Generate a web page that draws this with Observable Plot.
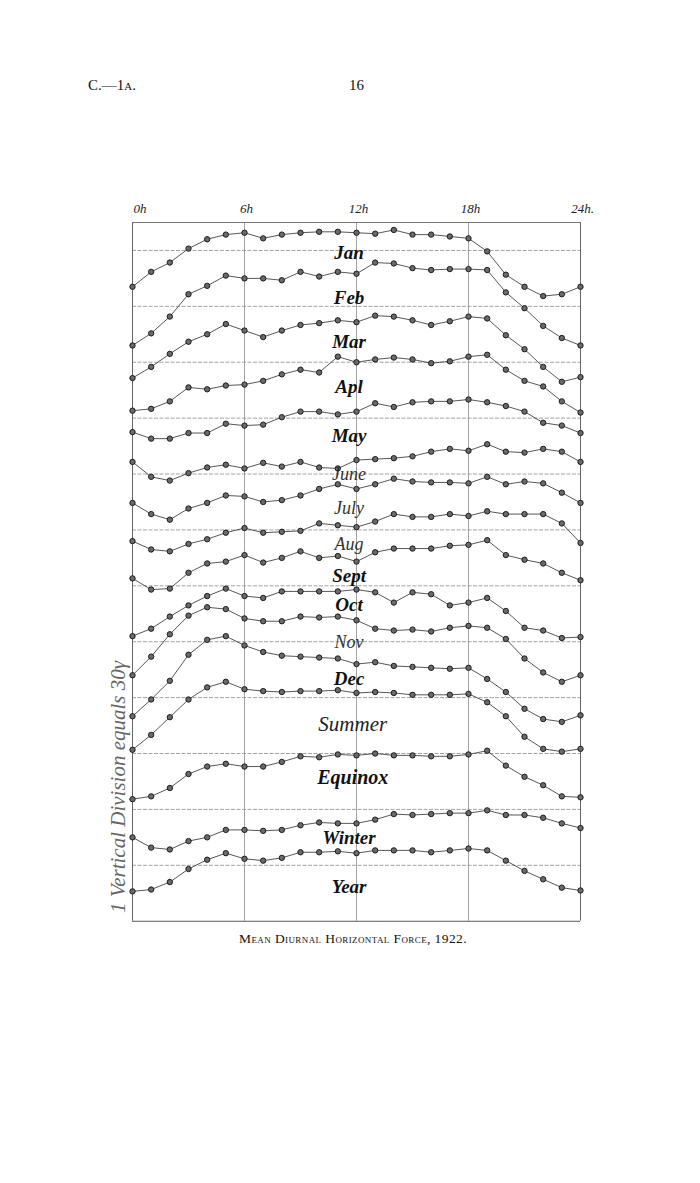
<!DOCTYPE html>
<html><head><meta charset="utf-8">
<script src="https://cdn.jsdelivr.net/npm/d3@7"></script>
<script src="https://cdn.jsdelivr.net/npm/@observablehq/plot@0.6"></script>
<style>
body{margin:0;background:#fff;width:700px;height:1183px;position:relative;overflow:hidden;font-family:"Liberation Serif",serif;color:#111}
#chart{position:absolute;left:0;top:0}
.hdr{position:absolute;top:77px;font-size:15px}
#cap{position:absolute;top:931px;left:0;width:706px;text-align:center;font-variant:small-caps;font-size:13.5px;letter-spacing:0.4px}
g[aria-label="series-label"] text{letter-spacing:1.6px}
g[aria-label="season-label"] text{letter-spacing:1.2px}
</style></head><body>
<div class="hdr" style="left:88px">C.—1<span style="font-size:11px">A</span>.</div>
<div class="hdr" style="left:349px">16</div>
<div id="chart"></div>
<div id="cap">Mean Diurnal Horizontal Force, 1922.</div>
<script>
// Hours of the day (0h .. 24h)
const hours = [0,1,2,3,4,5,6,7,8,9,10,11,12,13,14,15,16,17,18,19,20,21,22,23,24];
// Curve values, in gamma above the bottom line of the diagram (1 division = 30 gamma)
const jan = [340.5,348.5,353.5,361,366,368.5,369.5,366.5,368.5,369.5,370,370,369.5,369,371,368.5,368.5,367.5,366.5,359.5,347,340.5,335.5,336.5,340.5];
const feb = [309,315.5,324.5,336.5,341,346.5,345,345,344,348.5,346,348.5,347.5,353.5,353,350.5,349.5,350,350,349.5,337.5,329,319.5,313,309];
const mar = [291.5,297.5,304.5,311,315,320.5,317,313.5,317,320,321,322.5,321.5,325,324.5,322.5,320,322,324.5,323.5,314.5,307,297.5,289.5,292];
const apl = [274,275,279,286.5,285.5,287.5,288,290,293.5,296,294.5,303,300,301.5,302.5,301.5,299.5,300.5,303,304,296,290,287,279,273];
const may = [262.5,259,259,262,262,267,266,266.5,270.5,273.5,273.5,272,273.5,278,276,278.5,279,279,280,278.5,276.5,273.5,267.5,266,262];
const june = [246.5,238.5,236.5,240.5,243.5,245,243,246,244,246.5,243.5,243,247.5,248,248.5,249.5,252,253.5,252.5,256,252,251.5,253.5,252,246.5];
const july = [224.5,218.5,215.5,221.5,224.5,228.5,228,225,226,228.5,232,234.5,232,234.5,237.5,236,235.5,235.5,235,238.5,234.5,236,235,230,224.5];
const aug = [204,199.5,198.5,202.5,205,208.5,211,208.5,209,209.5,213.5,212.5,211.5,214.5,218.5,217,217,218.5,217.5,220,218.5,218.5,218.5,213.5,203];
const sept = [184,178,178.5,187,192,193,196.5,192.5,195,198.5,195,196,193,198,200,200,200,201.5,202,204.5,196.5,194,192,187,183];
const oct = [153,157,163.5,169.5,174.5,178.5,174.5,173.5,177,177,177,177,178,176.5,171,176.5,175.5,169.5,171,173.5,166.5,157.5,156,152,152.5];
const nov = [132,142,154,164,168.5,167.5,162.5,161,161,163.5,163,163.5,161.5,157,156,156.5,155.5,157.5,158.5,157.5,151.5,141,133.5,128.5,132];
const dec = [110,119,129,143,151,153,148,144.5,142.5,142,141.5,141,138,139,137,136.5,136,135.5,136,130,123,114,108.5,107,110.5];
const summer = [92,100,109.5,119,125.5,128.5,124.5,123.5,123,123.5,123.5,124,122.5,123,122.5,121.5,121.5,121.5,122,117.5,110,99,92.5,91,92.5];
const equinox = [65.5,67,71.5,79,83,84.5,83,83,85.5,88.5,88,89.5,89,90,89,89,88.5,88.5,89.5,91.5,83.5,77.5,73,67,66.5];
const winter = [45,39.5,38.5,43,45,49,49,48.5,49,51.5,53,52.5,52.5,54.5,57.5,57,57.5,58,58,59.5,57,57,55.5,52.5,50];
const year = [16,17,21,28,33,36.5,33.5,32.5,34,37,37,37.5,36.5,38,38,38,37,38,39,38,32.5,27,22.5,18,16.5];

const seriesNames = ["Jan","Feb","Mar","Apl","May","June","July","Aug","Sept","Oct","Nov","Dec","Summer","Equinox","Winter","Year"];
const seriesValues = [jan,feb,mar,apl,may,june,july,aug,sept,oct,nov,dec,summer,equinox,winter,year];
const gridLevels = [0,30,60,90,120,150,180,210,240,270,300,330,360];
const topLevel = 375;
const tickHours = [0,6,12,18,24];
const tickLabels = ["0h","6h","12h","18h","24h."];
const scaleNote = "1 Vertical Division equals 30γ";

const rows = [];
seriesNames.forEach((name,i)=>seriesValues[i].forEach((v,j)=>rows.push({series:name,hour:hours[j],value:v})));
const noon = hours.indexOf(12);
// each name sits midway between its own curve and the next one at noon
const labels = seriesNames.map((name,i)=>({
  name,
  level:(seriesValues[i][noon] + (i+1<seriesValues.length ? seriesValues[i+1][noon] : 0))/2
}));
const light = new Set(["June","July","Aug","Nov"]);
const seasons = new Set(["Summer","Equinox"]);

const chart = Plot.plot({
  width:700, height:1183,
  marginLeft:132, marginRight:120, marginTop:222, marginBottom:262.3,
  x:{domain:[0,24], axis:null},
  y:{domain:[0,topLevel], axis:null},
  style:{background:"transparent"},
  marks:[
    Plot.ruleY(gridLevels.slice(1), {stroke:"#8c8c8c", strokeWidth:0.8, strokeDasharray:"4,1.5"}),
    Plot.ruleX(tickHours.slice(1,-1), {stroke:"#9a9a9a", strokeWidth:0.9}),
    Plot.ruleX([0,24], {stroke:"#666", strokeWidth:1}),
    Plot.ruleY([0], {stroke:"#555", strokeWidth:1.1}),
    Plot.ruleY([topLevel], {stroke:"#777", strokeWidth:1}),
    Plot.line(rows, {x:"hour", y:"value", z:"series", stroke:"#444", strokeWidth:0.9}),
    Plot.dot(rows, {x:"hour", y:"value", r:2.7, fill:"#6a6a6a", stroke:"#111", strokeWidth:0.9}),
    Plot.text(labels.filter(d=>!light.has(d.name) && !seasons.has(d.name)), {x:()=>11.6, y:"level", text:"name", ariaLabel:"series-label", fontFamily:"Liberation Serif", fontStyle:"italic", fontWeight:"bold", fontSize:19, fill:"#111"}),
    Plot.text(labels.filter(d=>light.has(d.name)), {x:()=>11.6, y:"level", text:"name", ariaLabel:"series-label", fontFamily:"Liberation Serif", fontStyle:"italic", fontSize:18, fill:"#333"}),
    Plot.text(labels.filter(d=>d.name==="Summer"), {x:()=>11.8, y:"level", text:"name", ariaLabel:"season-label", fontFamily:"Liberation Serif", fontStyle:"italic", fontSize:21, fill:"#222"}),
    Plot.text(labels.filter(d=>d.name==="Equinox"), {x:()=>11.8, y:"level", text:"name", dy:-12, ariaLabel:"season-label", fontFamily:"Liberation Serif", fontStyle:"italic", fontWeight:"bold", fontSize:20, fill:"#111"}),
    Plot.text(tickHours.slice(0,1), {x:d=>d, y:()=>topLevel, text:()=>tickLabels[0], dy:-14, dx:1, textAnchor:"start", fontFamily:"Liberation Serif", fontStyle:"italic", fontSize:13, fill:"#222"}),
    Plot.text(tickHours.slice(1), {x:d=>d, y:()=>topLevel, text:(d,i)=>tickLabels[i+1], dy:-14, dx:2, fontFamily:"Liberation Serif", fontStyle:"italic", fontSize:13, fill:"#222"}),
    Plot.text([scaleNote], {x:()=>-0.75, y:()=>72, text:d=>d, rotate:-90, fontFamily:"Liberation Serif", fontStyle:"italic", fontSize:21, fill:"#666"})
  ]
});
document.getElementById("chart").appendChild(chart);
</script>
</body></html>
